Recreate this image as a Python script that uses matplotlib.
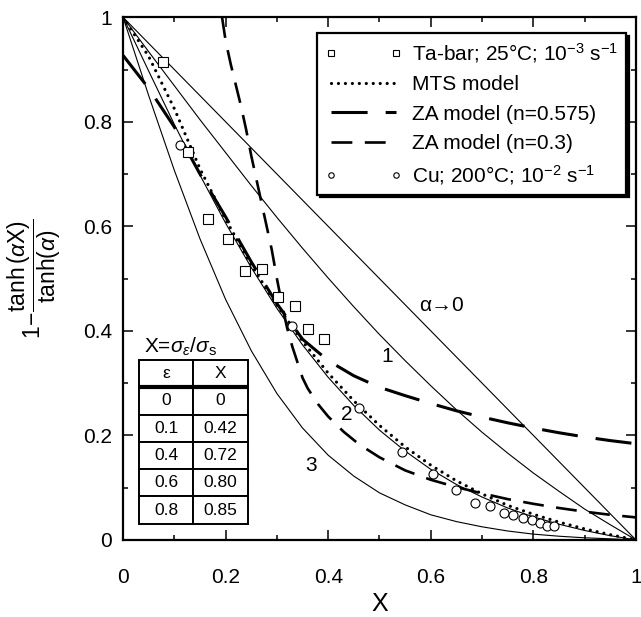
import numpy as np
import matplotlib
matplotlib.use('Agg')
import matplotlib.pyplot as plt
from matplotlib.ticker import MultipleLocator

plt.rcParams.update({
    'font.family': ['Liberation Sans', 'DejaVu Sans'],
    'font.size': 15,
    'mathtext.fontset': 'custom',
    'mathtext.rm': 'Liberation Sans',
    'mathtext.it': 'Liberation Sans:italic',
    'mathtext.sf': 'Liberation Sans',
    'mathtext.bf': 'Liberation Sans:bold',
    'lines.scale_dashes': False,
})

# Data.
x_grid = [0.0, 0.05, 0.10, 0.15, 0.20, 0.25, 0.30, 0.35, 0.40, 0.45, 0.50,
          0.55, 0.60, 0.65, 0.70, 0.75, 0.80, 0.85, 0.90, 0.95, 1.0]
alpha0_x = [0.0, 1.0]
alpha0_y = [1.0, 0.0]
alpha1_y = [1.0, 0.934, 0.869, 0.804, 0.741, 0.678, 0.617, 0.558, 0.501, 0.446, 0.393,
            0.343, 0.295, 0.249, 0.206, 0.166, 0.128, 0.093, 0.059, 0.029, 0.0]
alpha2_y = [1.0, 0.897, 0.795, 0.698, 0.606, 0.521, 0.443, 0.373, 0.311, 0.257, 0.210,
            0.170, 0.135, 0.106, 0.082, 0.061, 0.044, 0.030, 0.018, 0.008, 0.0]
alpha3_y = [1.0, 0.850, 0.707, 0.576, 0.460, 0.362, 0.280, 0.214, 0.162, 0.122, 0.090,
            0.067, 0.048, 0.035, 0.025, 0.017, 0.011, 0.007, 0.004, 0.002, 0.0]
mts_y = [1.0, 0.925, 0.825, 0.710, 0.613, 0.526, 0.449, 0.380, 0.319, 0.266, 0.219,
         0.178, 0.143, 0.113, 0.088, 0.066, 0.049, 0.034, 0.021, 0.010, 0.0]
za575_y = [0.927, 0.864, 0.790, 0.700, 0.618, 0.532, 0.452, 0.384, 0.343, 0.314, 0.292,
           0.276, 0.261, 0.247, 0.235, 0.224, 0.214, 0.205, 0.197, 0.190, 0.184]
za03_x = [0.193, 0.20, 0.21, 0.22, 0.23, 0.24, 0.25, 0.26, 0.27, 0.28, 0.29, 0.30,
          0.31, 0.32, 0.33, 0.34, 0.35, 0.36, 0.38, 0.40, 0.43, 0.46, 0.50, 0.55,
          0.60, 0.65, 0.70, 0.75, 0.80, 0.85, 0.90, 0.95, 1.0]
za03_y = [1.0, 0.955, 0.91, 0.87, 0.83, 0.785, 0.735, 0.69, 0.645, 0.60, 0.555, 0.50,
          0.45, 0.405, 0.37, 0.34, 0.31, 0.29, 0.26, 0.236, 0.207, 0.183, 0.158, 0.133,
          0.115, 0.101, 0.089, 0.078, 0.069, 0.061, 0.054, 0.048, 0.043]
ta_x = [0.078, 0.126, 0.165, 0.204, 0.237, 0.270, 0.303, 0.336, 0.361, 0.392]
ta_y = [0.914, 0.742, 0.614, 0.576, 0.514, 0.518, 0.465, 0.447, 0.403, 0.384]
cu_x = [0.111, 0.330, 0.460, 0.544, 0.605, 0.650, 0.686, 0.716, 0.742, 0.761,
        0.780, 0.798, 0.813, 0.827, 0.841]
cu_y = [0.755, 0.409, 0.253, 0.168, 0.126, 0.096, 0.071, 0.065, 0.052, 0.048,
        0.042, 0.038, 0.033, 0.027, 0.027]
table_eps = ['0', '0.1', '0.4', '0.6', '0.8']
table_X = ['0', '0.42', '0.72', '0.80', '0.85']

fig = plt.figure(figsize=(6.41, 6.17), dpi=100)
ax = fig.add_axes([0.192, 0.125, 0.8, 0.847])

# model curves
ax.plot(alpha0_x, alpha0_y, color='k', lw=0.8)
ax.plot(x_grid, alpha1_y, color='k', lw=0.8)
ax.plot(x_grid, alpha2_y, color='k', lw=0.8)
ax.plot(x_grid, alpha3_y, color='k', lw=0.8)

ax.plot(x_grid, mts_y, color='k', lw=2.3, linestyle=(0, (0.01, 5.0)),
        dash_capstyle='round', label='MTS model')
ax.plot(x_grid, za575_y, color='k', lw=2.2, linestyle=(0, (26, 13)),
        label='ZA model (n=0.575)')
ax.plot(za03_x, za03_y, color='k', lw=1.9, linestyle=(0, (15, 9)),
        label='ZA model (n=0.3)')

ax.plot(ta_x, ta_y, 's', ms=6.5, mfc='white', mec='k', mew=0.8,
        label='Ta-bar; 25°C; 10$^{-3}$ s$^{-1}$')
ax.plot(cu_x, cu_y, 'o', ms=6.5, mfc='white', mec='k', mew=0.8,
        label='Cu; 200°C; 10$^{-2}$ s$^{-1}$')

# curve labels
ax.text(0.577, 0.449, 'α→0', ha='left', va='center', fontsize=15)
ax.text(0.515, 0.35, '1', ha='center', va='center', fontsize=15)
ax.text(0.437, 0.239, '2', ha='center', va='center', fontsize=15)
ax.text(0.367, 0.143, '3', ha='center', va='center', fontsize=15)

ax.set_xlim(0, 1)
ax.set_ylim(0, 1)
ax.xaxis.set_major_locator(MultipleLocator(0.2))
ax.xaxis.set_minor_locator(MultipleLocator(0.1))
ax.yaxis.set_major_locator(MultipleLocator(0.2))
ax.yaxis.set_minor_locator(MultipleLocator(0.1))
ax.xaxis.set_major_formatter(plt.FuncFormatter(lambda v, p: '%g' % round(v, 1)))
ax.yaxis.set_major_formatter(plt.FuncFormatter(lambda v, p: '%g' % round(v, 1)))
ax.tick_params(which='both', direction='in', top=True, right=True, width=1.1)
ax.tick_params(which='major', length=7, labelsize=15)
ax.tick_params(which='minor', length=3.5)
ax.tick_params(axis='x', which='major', pad=20)
ax.tick_params(axis='y', which='major', pad=8)
for s in ax.spines.values():
    s.set_linewidth(1.6)

ax.set_xlabel('X', fontsize=18, labelpad=4)
ax.set_ylabel(r'$1\!-\!\dfrac{\mathrm{tanh}\,(\alpha \mathrm{X})}{\mathrm{tanh}(\alpha)}$',
              fontsize=16.5)
ax.yaxis.set_label_coords(-0.118, 0.50)

# legend, order as in the original
h, l = ax.get_legend_handles_labels()
order = [3, 0, 1, 2, 4]
leg = ax.legend([h[i] for i in order], [l[i] for i in order],
                loc='upper left', bbox_to_anchor=(0.379, 0.969),
                fontsize=15, numpoints=2, markerscale=0.6, handlelength=3.7,
                handletextpad=0.5, labelspacing=0.5, borderpad=0.35,
                borderaxespad=0, fancybox=False, framealpha=1,
                shadow={'color': 'black', 'alpha': 1})
leg.get_frame().set_edgecolor('k')
leg.get_frame().set_linewidth(1.6)

# inset table of X vs strain
ax.text(0.04, 0.37, r'X=$\sigma_{\varepsilon}$/$\sigma_{\mathrm{s}}$', fontsize=15,
        ha='left', va='center')
tb = ax.table(cellText=[[e, x] for e, x in zip(table_eps, table_X)],
              colLabels=['ε', 'X'], cellLoc='center',
              bbox=[0.031, 0.031, 0.212, 0.313])
tb.auto_set_font_size(False)
for (r, c), cell in tb.get_celld().items():
    cell.set_linewidth(1.4)
    cell.get_text().set_fontsize(12.5)
ax.plot([0.031, 0.243], [0.344 - 0.313 / 6] * 2, color='k', lw=3,
        transform=ax.transAxes, solid_capstyle='butt')

fig.savefig('out.png', dpi=100)
plt.close(fig)
